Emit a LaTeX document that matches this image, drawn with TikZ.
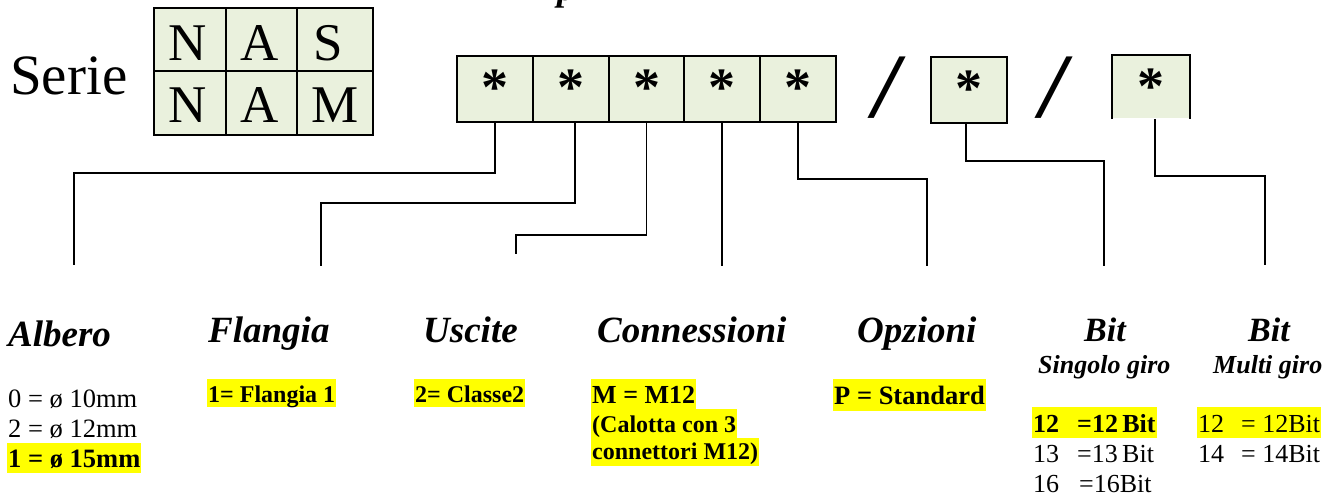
\documentclass[tikz,border=0pt]{standalone}
\usepackage{fontspec}
\setmainfont{Liberation Serif}
\definecolor{boxgreen}{HTML}{EAF1DD}
\definecolor{hlyellow}{HTML}{FFFF00}
\tikzset{
  cell/.style={draw, line width=2pt, fill=boxgreen, inner sep=0pt},
  letter/.style={anchor=base west, inner sep=0pt, font=\fontsize{53}{60}\selectfont},
  starbox/.style={draw, line width=2pt, fill=boxgreen, inner sep=0pt, minimum width=76pt, font=\fontsize{54}{56}\selectfont\bfseries},
  slash/.style={inner sep=0pt, font=\fontsize{92}{96}\selectfont\bfseries\itshape},
  conn/.style={line width=1.5pt},
  head/.style={anchor=base west, inner sep=0pt, font=\fontsize{37}{40}\selectfont\bfseries\itshape},
  headsm/.style={anchor=base west, inner sep=0pt, font=\fontsize{34}{36}\selectfont\bfseries\itshape},
  sub/.style={anchor=base west, inner sep=0pt, font=\fontsize{26}{30}\selectfont\bfseries\itshape},
  val/.style={anchor=base west, inner sep=0pt, font=\fontsize{26.5}{30}\selectfont},
  valb/.style={anchor=base west, inner sep=0pt, font=\fontsize{24}{30}\selectfont\bfseries},
  hl/.style={fill=hlyellow, inner xsep=1pt}
}
\begin{document}
\begin{tikzpicture}[x=1pt,y=-1pt]
\useasboundingbox (0,0) rectangle (1341,496);
% cut-off title fragment
\node[anchor=base west, inner sep=0pt, font=\fontsize{36}{40}\selectfont\bfseries\itshape] (title) at (557,0.5) {p};
% Serie
\node[anchor=base west, inner sep=0pt, font=\fontsize{57}{60}\selectfont] (serie) at (10,94) {Serie};
% NAS / NAM grid
\node[cell, minimum width=72pt, minimum height=63pt] (c11) at (190,39.5) {};
\node[cell, minimum width=71pt, minimum height=63pt] (c12) at (261.5,39.5) {};
\node[cell, minimum width=76pt, minimum height=63pt] (c13) at (335,39.5) {};
\node[cell, minimum width=72pt, minimum height=64pt] (c21) at (190,103) {};
\node[cell, minimum width=71pt, minimum height=64pt] (c22) at (261.5,103) {};
\node[cell, minimum width=76pt, minimum height=64pt] (c23) at (335,103) {};
\node[letter] (l11) at (168,60) {N};
\node[letter] (l12) at (240,60) {A};
\node[letter] (l13) at (313,60) {S};
\node[letter] (l21) at (168,122) {N};
\node[letter] (l22) at (240,122) {A};
\node[letter] (l23) at (311,122) {M};
% star boxes
\node[starbox, minimum height=66pt] (s1) at (495,89) {\raisebox{3pt}{*}};
\node[starbox, minimum height=66pt] (s2) at (571,89) {\raisebox{3pt}{*}};
\node[starbox, minimum height=66pt] (s3) at (646.5,89) {\raisebox{3pt}{*}};
\node[starbox, minimum height=66pt] (s4) at (722,89) {\raisebox{3pt}{*}};
\node[starbox, minimum height=66pt] (s5) at (798,89) {\raisebox{3pt}{*}};
\node[slash] (sl1) at (886.5,88) {/};
\node[starbox, minimum height=66pt] (s6) at (969,90) {\raisebox{3pt}{*}};
\node[slash] (sl2) at (1053,88) {/};
\node[starbox, draw=none, minimum height=62pt] (s7) at (1151,87) {\raisebox{1pt}{*}};
\draw[line width=2pt] (s7.south west) -- (s7.north west) -- (s7.north east) -- (s7.south east);
% connector ends
\coordinate (eAlb) at (74,265);
\coordinate (eFla) at (321,266);
\coordinate (eUsc) at (516,254);
\coordinate (eCon) at (722,266);
\coordinate (eOpz) at (927,266);
\coordinate (eBs) at (1104,266);
\coordinate (eBm) at (1265,265);
\draw[conn] (s1.south) -- ++(0,50) -| (eAlb);
\draw[conn] ([xshift=4pt]s2.south) -- ++(0,80) -| (eFla);
\draw[conn] (s3.south) -- ++(0,112) -| (eUsc);
\draw[conn] (s4.south) -- (eCon);
\draw[conn] (s5.south) -- ++(0,56) -| (eOpz);
\draw[conn] ([xshift=-3pt]s6.south) -- ++(0,37) -| (eBs);
\draw[conn] ([xshift=4pt]s7.south) -- ++(0,57) -| (eBm);
% headings
\node[head] (hAlb) at (8,346) {Albero};
\node[head] (hFla) at (208,342) {Flangia};
\node[head] (hUsc) at (423,342) {Uscite};
\node[head] (hCon) at (597,342) {Connessioni};
\node[head] (hOpz) at (857,342) {Opzioni};
\node[headsm] (hBs) at (1084,341) {Bit};
\node[sub] (hSg) at (1038,373) {Singolo giro};
\node[headsm] (hBm) at (1248,341) {Bit};
\node[sub] (hMg) at (1213,373) {Multi giro};
% values
\node[val] (a0) at (8,407) {0 = ø 10mm};
\node[val] (a2) at (8,437) {2 = ø 12mm};
\node[val, hl, text height=24pt, text depth=6pt] (a1) at (7,467) {\bfseries 1 = ø 15mm};
\node[valb, hl, text height=23pt, text depth=5pt] (f1) at (207,402) {1= Flangia 1};
\node[valb, hl, text height=23pt, text depth=5pt] (u1) at (414,402) {2= Classe2};
\node[valb, hl, text height=24pt, text depth=6pt, font=\fontsize{26}{30}\selectfont\bfseries] (cn1) at (591,403) {M = M12};
\node[valb, hl, text height=23pt, text depth=6pt] (cn2) at (591,432) {(Calotta con 3};
\node[valb, hl, text height=21pt, text depth=7pt] (cn3) at (591,459) {connettori M12)};
\node[valb, hl, text height=25pt, text depth=7pt, font=\fontsize{26.5}{30}\selectfont\bfseries] (o1) at (833,404) {P = Standard};
\node[val, hl, text height=25pt, text depth=6pt, font=\fontsize{26}{30}\selectfont] (bs1) at (1032,432) {\bfseries\makebox[44pt][l]{12}=12\,Bit};
\node[val, font=\fontsize{26}{30}\selectfont] (bs2) at (1033,462) {\makebox[44pt][l]{13}=13\,Bit};
\node[val, font=\fontsize{26}{30}\selectfont] (bs3) at (1033,492) {\makebox[46pt][l]{16}=16Bit};
\node[val, hl, text height=25pt, text depth=6pt, font=\fontsize{26}{30}\selectfont] (bm1) at (1197,432) {\makebox[43pt][l]{12}= 12Bit};
\node[val, font=\fontsize{26}{30}\selectfont] (bm2) at (1198,462) {\makebox[43pt][l]{14}= 14Bit};
\end{tikzpicture}
\end{document}
